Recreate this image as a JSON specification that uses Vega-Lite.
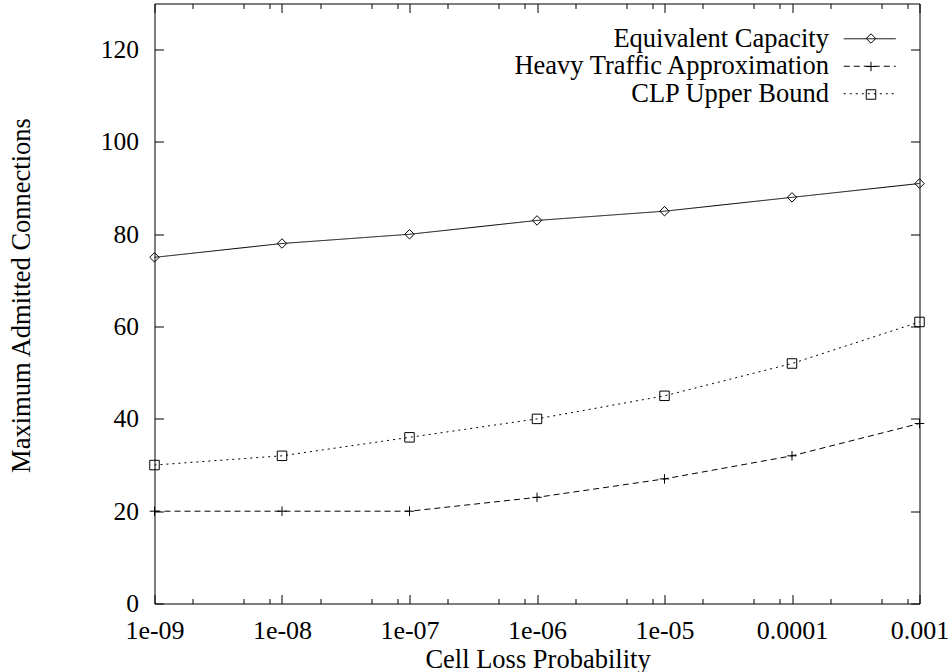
{
  "$schema": "https://vega.github.io/schema/vega-lite/v6.json",
  "width": 765,
  "height": 600,
  "autosize": {"type": "none"},
  "padding": {"left": 154.5, "top": 3.5, "right": 30.5, "bottom": 68.5},
  "background": "white",
  "config": {
    "font": "Liberation Serif",
    "view": {"stroke": "black", "strokeWidth": 1},
    "axis": {"domain": false, "grid": false, "ticks": true, "tickRound": true, "tickOpacity": 1, "tickColor": "black", "tickWidth": 1, "labelColor": "black", "titleColor": "black", "labelFontWeight": "normal", "titleFontWeight": "normal", "zindex": 1}
  },
  "data": {
    "values": [
      {"clp": 1e-9, "series": "Equivalent Capacity", "value": 75},
      {"clp": 1e-8, "series": "Equivalent Capacity", "value": 78},
      {"clp": 1e-7, "series": "Equivalent Capacity", "value": 80},
      {"clp": 1e-6, "series": "Equivalent Capacity", "value": 83},
      {"clp": 1e-5, "series": "Equivalent Capacity", "value": 85},
      {"clp": 1e-4, "series": "Equivalent Capacity", "value": 88},
      {"clp": 1e-3, "series": "Equivalent Capacity", "value": 91},
      {"clp": 1e-9, "series": "Heavy Traffic Approximation", "value": 20},
      {"clp": 1e-8, "series": "Heavy Traffic Approximation", "value": 20},
      {"clp": 1e-7, "series": "Heavy Traffic Approximation", "value": 20},
      {"clp": 1e-6, "series": "Heavy Traffic Approximation", "value": 23},
      {"clp": 1e-5, "series": "Heavy Traffic Approximation", "value": 27},
      {"clp": 1e-4, "series": "Heavy Traffic Approximation", "value": 32},
      {"clp": 1e-3, "series": "Heavy Traffic Approximation", "value": 39},
      {"clp": 1e-9, "series": "CLP Upper Bound", "value": 30},
      {"clp": 1e-8, "series": "CLP Upper Bound", "value": 32},
      {"clp": 1e-7, "series": "CLP Upper Bound", "value": 36},
      {"clp": 1e-6, "series": "CLP Upper Bound", "value": 40},
      {"clp": 1e-5, "series": "CLP Upper Bound", "value": 45},
      {"clp": 1e-4, "series": "CLP Upper Bound", "value": 52},
      {"clp": 1e-3, "series": "CLP Upper Bound", "value": 61}
    ]
  },
  "resolve": {"axis": {"x": "independent", "y": "independent"}},
  "layer": [
    {
      "mark": {"type": "line", "color": "black", "strokeWidth": 1, "clip": false},
      "encoding": {
        "x": {
          "field": "clp", "type": "quantitative",
          "scale": {"type": "log", "domain": [1e-9, 0.001], "nice": false, "zero": false},
          "axis": {
            "orient": "bottom",
            "offset": -9,
            "values": [1e-9, 1e-8, 1e-7, 1e-6, 1e-5, 0.0001, 0.001],
            "labelExpr": "datum.value >= 0.0009 ? '0.001' : (datum.value >= 0.00009 ? '0.0001' : '1e-0' + round(-log(datum.value) / LN10))",
            "tickSize": 9,
            "labelPadding": 14,
            "labelFontSize": 26,
            "labelFlush": false,
            "labelOverlap": false,
            "title": "Cell Loss Probability",
            "titleFontSize": 26.5,
            "titleX": 383,
            "titleY": 72.5,
            "titleAnchor": null,
            "titleAlign": "center",
            "titleBaseline": "alphabetic"
          }
        },
        "y": {
          "field": "value", "type": "quantitative",
          "scale": {"domain": [0, 130], "nice": false, "zero": true},
          "axis": {
            "orient": "left",
            "offset": -9,
            "values": [0, 20, 40, 60, 80, 100, 120],
            "tickSize": 9,
            "labelPadding": 16,
            "labelFontSize": 25.5,
            "labelFlush": false,
            "labelOverlap": false,
            "title": "Maximum Admitted Connections",
            "titleFontSize": 26.5,
            "titleAngle": -90,
            "titleX": -142.5,
            "titleY": 291.5,
            "titleAnchor": null,
            "titleAlign": "center",
            "titleBaseline": "middle"
          }
        },
        "strokeDash": {
          "field": "series", "type": "nominal",
          "scale": {
            "domain": ["Equivalent Capacity", "Heavy Traffic Approximation", "CLP Upper Bound"],
            "range": [[1, 0], [6, 4], [2, 4]]
          },
          "legend": {
            "orient": "none",
            "legendX": 688,
            "legendY": 22,
            "title": null,
            "padding": 0,
            "symbolType": "M-5,0L5,0",
            "symbolSize": 108,
            "symbolStrokeColor": "black",
            "symbolFillColor": "transparent",
            "symbolStrokeWidth": 1,
            "symbolOffset": 14,
            "labelAlign": "right",
            "labelOffset": -54,
            "labelFontSize": 26.5,
            "labelColor": "black",
            "labelLimit": 0,
            "rowPadding": 0.5
          }
        }
      }
    },
    {
      "mark": {"type": "point", "filled": false, "color": "black", "strokeWidth": 1, "size": 90, "opacity": 1, "clip": false},
      "encoding": {
        "x": {
          "field": "clp", "type": "quantitative",
          "axis": {"orient": "top", "offset": -9, "values": [1e-9, 1e-8, 1e-7, 1e-6, 1e-5, 0.0001, 0.001], "tickSize": 9, "labels": false, "title": null}
        },
        "y": {
          "field": "value", "type": "quantitative",
          "axis": {"orient": "right", "offset": -9, "values": [0, 20, 40, 60, 80, 100, 120], "tickSize": 9, "labels": false, "title": null}
        },
        "shape": {
          "field": "series", "type": "nominal",
          "sort": ["Equivalent Capacity", "Heavy Traffic Approximation", "CLP Upper Bound"],
          "scale": {"range": ["diamond", "M-1,0L1,0M0,-1L0,1", "square"]},
          "legend": {
            "orient": "none",
            "legendX": 688,
            "legendY": 29.5,
            "title": null,
            "padding": 0,
            "symbolSize": 90,
            "symbolStrokeColor": "black",
            "symbolFillColor": "transparent",
            "symbolStrokeWidth": 1,
            "symbolOffset": 23,
            "labelExpr": "''",
            "labelFontSize": 1,
            "labelLimit": 0,
            "rowPadding": 13
          }
        }
      }
    },
    {
      "mark": {"type": "point", "opacity": 0},
      "encoding": {
        "x": {
          "field": "clp", "type": "quantitative",
          "axis": {"orient": "bottom", "offset": -5, "values": [2e-9, 5e-9, 8e-9, 2e-8, 5e-8, 8e-8, 2e-7, 5e-7, 8e-7, 2e-6, 5e-6, 8e-6, 2e-5, 5e-5, 8e-5, 0.0002, 0.0005, 0.0008], "tickSize": 5, "labels": false, "title": null}
        },
        "y": {"field": "value", "type": "quantitative", "axis": null}
      }
    },
    {
      "mark": {"type": "point", "opacity": 0},
      "encoding": {
        "x": {
          "field": "clp", "type": "quantitative",
          "axis": {"orient": "top", "offset": -5, "values": [2e-9, 5e-9, 8e-9, 2e-8, 5e-8, 8e-8, 2e-7, 5e-7, 8e-7, 2e-6, 5e-6, 8e-6, 2e-5, 5e-5, 8e-5, 0.0002, 0.0005, 0.0008], "tickSize": 5, "labels": false, "title": null}
        },
        "y": {"field": "value", "type": "quantitative", "axis": null}
      }
    }
  ]
}
